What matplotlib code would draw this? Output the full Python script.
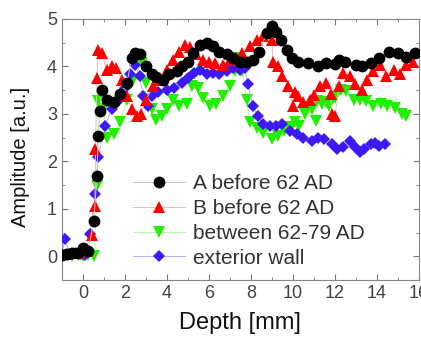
import numpy as np
import matplotlib
matplotlib.use('Agg')
import matplotlib.pyplot as plt
from matplotlib.ticker import MultipleLocator

plt.rcParams['font.family'] = ['Liberation Sans', 'DejaVu Sans']

# A before 62 AD (black circles)
xA = [-1.0, -0.75, -0.5, -0.25, 0.0, 0.25, 0.52, 0.67, 0.73, 0.8, 0.9, 1.14, 1.5, 1.76, 2.1, 2.33,
      2.48, 2.7, 3.0, 3.3, 3.5, 3.8, 4.1, 4.5, 4.7, 5.0, 5.25, 5.57, 5.9, 6.2, 6.5, 6.85, 7.15,
      7.5, 7.8, 8.1, 8.4, 8.75, 9.0, 9.2, 9.45, 9.7, 9.95, 10.25, 10.7, 11.2, 11.6, 12.0, 12.2,
      12.5, 13.0, 13.3, 13.7, 14.1, 14.6, 15.0, 15.4, 15.8]
yA = [0.03, 0.05, 0.06, 0.08, 0.17, 0.12, 0.74, 1.69, 2.53, 3.05, 3.51, 3.3, 3.24, 3.41, 3.66, 4.18,
      4.29, 4.25, 4.0, 3.83, 3.77, 3.72, 3.83, 3.9, 4.0, 4.1, 4.28, 4.46, 4.5, 4.42, 4.31, 4.25, 4.18,
      4.1, 4.1, 4.14, 4.31, 4.7, 4.84, 4.73, 4.56, 4.35, 4.18, 4.1, 4.07, 4.0, 4.07, 4.05, 4.14,
      4.1, 4.03, 4.0, 4.07, 4.18, 4.31, 4.28, 4.2, 4.28]

# B before 62 AD (red up triangles)
xB = [-1.0, -0.75, -0.5, -0.25, 0.0, 0.2, 0.43, 0.57, 0.6, 0.67, 0.73, 0.9, 1.13, 1.4, 1.6, 1.85,
      2.1, 2.33, 2.56, 2.75, 3.0, 3.35, 3.67, 4.0, 4.3, 4.6, 4.86, 5.1, 5.4, 5.7, 6.0, 6.3, 6.67,
      7.0, 7.3, 7.6, 7.95, 8.3, 8.6, 8.8, 9.0, 9.05, 9.3, 9.5, 9.76, 10.0, 10.1, 10.25, 10.5, 10.8,
      11.0, 11.3, 11.6, 11.8, 11.86, 12.0, 12.2, 12.4, 12.7, 12.95, 13.3, 13.55, 13.8, 14.15,
      14.45, 14.8, 15.1, 15.4, 15.7]
yB = [0.04, 0.05, 0.06, 0.07, 0.15, 0.12, 0.44, 1.06, 2.25, 3.76, 4.35, 4.28, 3.93, 4.0, 3.97, 3.72,
      3.37, 3.1, 2.95, 3.0, 3.3, 3.58, 3.72, 3.93, 4.14, 4.31, 4.46, 4.4, 4.25, 4.14, 4.1, 4.07, 4.03,
      4.14, 4.18, 4.28, 4.42, 4.56, 4.63, 4.7, 4.56, 4.1, 4.0, 3.8, 3.58, 3.16, 3.47, 3.37, 3.24, 3.3,
      3.4, 3.58, 3.65, 3.41, 2.99, 2.95, 3.58, 3.86, 3.8, 3.62, 3.5, 3.72, 3.9, 4.03,
      3.8, 3.93, 3.83, 4.03, 4.1]

# between 62-79 AD (green down triangles)
xC = [-1.0, -0.75, -0.5, -0.25, 0.0, 0.25, 0.55, 0.67, 0.73, 0.97, 1.13, 1.5, 1.76, 2.1, 2.4,
      2.8, 3.0, 3.28, 3.5, 3.76, 4.0, 4.3, 4.6, 4.94, 5.2, 5.5, 5.7, 6.05, 6.35, 6.67, 7.0, 7.24,
      7.4, 7.6, 7.8, 7.95, 8.3, 8.6, 9.0, 9.3, 9.6, 9.9, 10.1, 10.3, 10.57, 10.9, 11.1, 11.15,
      11.4, 11.6, 11.7, 12.0, 12.3, 12.55, 12.9, 13.2, 13.5, 13.8, 14.2, 14.5, 14.85, 15.2, 15.4]
yC = [0.0, 0.02, 0.0, 0.03, 0.0, 0.02, 0.0, 1.48, 3.27, 3.1, 2.5, 2.58, 2.82, 3.3, 3.72,
      4.07, 3.65, 3.1, 2.88, 2.95, 3.1, 3.3, 3.16, 3.2, 3.58, 3.55, 3.34, 3.16, 3.2, 3.37, 3.58, 3.9,
      4.18, 3.9, 3.3, 2.82, 2.7, 2.6, 2.47, 2.53, 2.63, 2.72, 2.82, 2.75, 3.0, 3.1, 2.85, 3.27,
      3.2, 3.24, 3.16, 3.34, 3.51, 3.48, 3.3, 3.3, 3.27, 3.16, 3.2, 3.16, 3.13, 3.0, 2.95]

# exterior wall (blue diamonds)
xD = [-1.0, -0.86, -0.6, -0.35, -0.1, 0.1, 0.33, 0.6, 0.73, 1.05, 1.38, 1.7, 2.0, 2.24, 2.48,
      2.7, 2.87, 3.1, 3.3, 3.6, 4.0, 4.35, 4.7, 5.0, 5.3, 5.57, 5.9, 6.2, 6.5, 6.85, 7.15, 7.5,
      7.7, 7.86, 8.1, 8.35, 8.6, 8.9, 9.2, 9.5, 9.86, 10.2, 10.5, 10.9, 11.2, 11.5, 11.85, 12.1,
      12.4, 12.7, 12.95, 13.2, 13.4, 13.7, 13.9, 14.1, 14.4]
yD = [0.02, 0.37, 0.04, 0.06, 0.05, 0.03, 0.47, 1.31, 2.1, 2.74, 3.1, 3.3, 3.55, 3.83, 4.03,
      3.8, 3.37, 3.16, 3.37, 3.45, 3.51, 3.55, 3.65, 3.76, 3.86, 3.93, 3.83, 3.86, 3.83, 3.9, 3.97, 3.93,
      3.97, 3.62, 3.16, 2.95, 2.78, 2.74, 2.74, 2.78, 2.63, 2.57, 2.5, 2.43, 2.5, 2.46, 2.36, 2.26,
      2.3, 2.43, 2.3, 2.19, 2.26, 2.36, 2.39, 2.32, 2.36]

labels = ['A before 62 AD', 'B before 62 AD', 'between 62-79 AD', 'exterior wall']

fig = plt.figure(figsize=(4.21, 3.37), dpi=100)
ax = fig.add_axes([0.147, 0.169, 0.848, 0.775])

lC, = ax.plot(xC, yC, color='#b8f5b0', marker='v', ms=8, lw=0.7, mew=0, mfc='#22ee00',
              zorder=2, label=labels[2])
lD, = ax.plot(xD, yD, color='#b8b0f0', marker='D', ms=6, lw=0.7, mew=0, mfc='#3d1af5',
              zorder=3, label=labels[3])
lB, = ax.plot(xB, yB, color='#f5b8b8', marker='^', ms=8, lw=0.7, mew=0, mfc='#ff0000',
              zorder=4, label=labels[1])
lA, = ax.plot(xA, yA, color='#c8c8c8', marker='o', ms=8.5, lw=0.7, mew=0, mfc='#000000',
              zorder=5, label=labels[0])

ax.set_xlim(-1, 16)
ax.set_ylim(-0.5, 5)
ax.xaxis.set_major_locator(MultipleLocator(2))
ax.xaxis.set_minor_locator(MultipleLocator(1))
ax.yaxis.set_major_locator(MultipleLocator(1))
ax.yaxis.set_minor_locator(MultipleLocator(0.5))
ax.tick_params(which='both', top=True, right=True, direction='in', colors='#777777',
               labelcolor='#444444', labelsize=13)
ax.tick_params(which='major', length=4)
ax.tick_params(which='minor', length=2)
for s in ax.spines.values():
    s.set_color('#888888')

ax.set_xlabel('Depth [mm]', fontsize=17, color='#111111', labelpad=7)
ax.set_ylabel('Amplitude [a.u.]', fontsize=14.5, color='#111111')
ax.yaxis.set_label_coords(-0.09, 0.47)

leg = ax.legend([lA, lB, lC, lD], labels, loc='upper left',
                bbox_to_anchor=(0.2, 0.405), frameon=False, fontsize=15,
                handlelength=2.5, handletextpad=0.35, labelspacing=0.28, borderpad=0,
                borderaxespad=0)
for t in leg.get_texts():
    t.set_color('#333333')

fig.savefig('out.png', dpi=100)
